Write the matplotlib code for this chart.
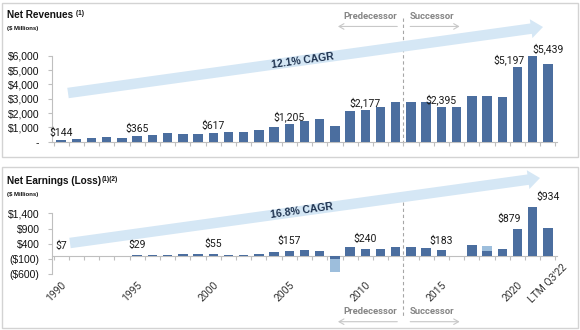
import numpy as np
import matplotlib
matplotlib.use("Agg")
import matplotlib.pyplot as plt
from matplotlib.patches import FancyArrow, Rectangle
from matplotlib.transforms import Affine2D, blended_transform_factory

# データ
years = [str(y) for y in range(1990, 2022)] + ["LTM Q3'22"]
revenues = [144, 163, 233, 326, 280, 365, 488, 581, 535, 558,
            617, 674, 674, 837, 1046, 1205, 1465, 1558, 1093, 2116,
            2177, 2395, 2767, 2744, 2790, 2395, 2395, 3186, 3163, 3093,
            5197, 5990, 5439]
earnings = [7, 4, 6, 12, 8, 29, 38, 45, 62, 50,
            55, 48, 45, 70, 125, 157, 195, 153, -110, 285,
            240, 220, 295, 285, 262, 183, 3, 360, 165, 240,
            879, 1607, 934]
earnings_extra = [0] * 18 + [-415] + [0] * 9 + [150] + [0] * 4
label_idx = [0, 5, 10, 15, 20, 25, 30, 32]
tick_years = ["1990", "1995", "2000", "2005", "2010", "2015", "2020", "LTM Q3'22"]
rev_ticks = [0, 1000, 2000, 3000, 4000, 5000, 6000]
earn_ticks = [-600, -100, 400, 900, 1400]
rev_cagr = "12.1% CAGR"
earn_cagr = "16.8% CAGR"

DARK = "#4B6E9F"
LIGHT = "#9DBEDC"
ARROW = "#D5E7F5"
GREY = "#BFBFBF"
NAVY = "#1F3350"

W, H = 580, 330
fig = plt.figure(figsize=(W / 100, H / 100), dpi=100)
px = Affine2D().scale(1 / W, -1 / H).translate(0, 1) + fig.transFigure

x = np.arange(len(years))


def px_box(left, top, right, bottom):
    return [left / W, 1 - bottom / H, (right - left) / W, (bottom - top) / H]


ax1 = fig.add_axes(px_box(52, 55.7, 557, 141.7))
ax2 = fig.add_axes(px_box(52, 213.3, 557, 274.3))

for ax in (ax1, ax2):
    ax.set_xlim(-0.6, 32.6)
    for s in ("top", "right"):
        ax.spines[s].set_visible(False)
    for s in ("left", "bottom"):
        ax.spines[s].set_color(GREY)
        ax.spines[s].set_linewidth(0.8)
    ax.set_xticks(np.arange(-0.5, 33, 1.0))
    ax.set_xticklabels([])
    ax.tick_params(axis="x", length=3, color=GREY, width=0.8)
    ax.tick_params(axis="y", length=3, color=GREY, width=0.8, pad=6,
                   labelsize=7.5, labelcolor="#111111")
    ax.patch.set_alpha(0)

# 上段：売上
ax1.bar(x, revenues, width=0.62, color=DARK, zorder=3, clip_on=False)
ax1.set_ylim(0, 6000)
ax1.set_yticks(rev_ticks)
ax1.set_yticklabels(["-" if v == 0 else f"${v:,.0f}" for v in rev_ticks],
                    family="Liberation Sans")

# 下段：純利益（2021年は軸上限を超える）
ax2.bar(x, earnings, width=0.62, color=DARK, zorder=3, clip_on=False)
ax2.bar(x, earnings_extra, bottom=earnings, width=0.62, color=LIGHT, zorder=3, clip_on=False)
ax2.set_ylim(-600, 1400)
ax2.spines["bottom"].set_position(("data", 0))
ax2.set_yticks(earn_ticks)
ax2.set_yticklabels([f"${v:,.0f}" if v >= 0 else f"(${-v:,.0f})" for v in earn_ticks],
                    family="Liberation Sans")

# データラベル
lab_font = dict(family="Roboto", fontsize=7.5, color="#1a1a1a", ha="center", va="bottom")
shift = {30: -0.55}
for vals, ax, off in ((revenues, ax1, 1.5), (earnings, ax2, 3.5)):
    for i in label_idx:
        v = vals[i]
        y = max(vals[i - 1], v) if i == len(vals) - 1 else max(v, 0)
        ax.annotate(f"${v:,.0f}", xy=(i + shift.get(i, 0), y), xytext=(0, off),
                    textcoords="offset points", zorder=5, annotation_clip=False,
                    **lab_font)

# 年ラベル
bt = blended_transform_factory(ax2.transData, ax2.transAxes)
for lab in tick_years:
    i = years.index(lab)
    if lab.startswith("LTM"):
        ax2.text(i, -0.15, lab, transform=bt, rotation=45, rotation_mode="anchor",
                 ha="center", va="center", family="Roboto", fontsize=7.5, color="#333333")
    else:
        ax2.text(i, -0.09, lab, transform=bt, rotation=45, rotation_mode="anchor",
                 ha="right", va="top", family="Roboto", fontsize=7.5, color="#333333")

# Predecessor / Successor
split = 22.5
for ax, y0, y1, ty, ay in ((ax1, 1.44, -0.01, 1.456, 1.34),
                           (ax2, 1.185, -0.716, -0.618, -0.777)):
    tr = blended_transform_factory(ax.transData, ax.transAxes)
    ax.plot([split, split], [y0, y1], transform=tr, clip_on=False,
            color="#A6A6A6", lw=0.8, ls=(0, (3, 2.5)), zorder=1)
    ax.text(split - 0.42, ty, "Predecessor", transform=tr, ha="right", va="center",
            family="Roboto", fontsize=6.8, color="#858585", fontweight="bold")
    ax.text(split + 0.42, ty, "Successor", transform=tr, ha="left", va="center",
            family="Roboto", fontsize=6.8, color="#858585", fontweight="bold")
    ap = dict(arrowstyle="->,head_length=0.35,head_width=0.2", color="#C8C8C8",
              lw=0.8, shrinkA=0, shrinkB=0)
    ax.annotate("", xy=(18.2, ay), xytext=(split - 0.4, ay), xycoords=tr, arrowprops=ap)
    ax.annotate("", xy=(26.2, ay), xytext=(split + 0.45, ay), xycoords=tr, arrowprops=ap)

# CAGR矢印
for (x0, y0, x1, y1, cx, cy, txt) in ((68, 93, 543, 27, 303, 61, rev_cagr),
                                      (70, 243, 540, 178, 302, 211, earn_cagr)):
    fig.patches.append(FancyArrow(x0, y0, x1 - x0, y1 - y0, width=10.5, head_width=19,
                                  head_length=12, length_includes_head=True,
                                  color=ARROW, lw=0, transform=px, zorder=0))
    ang = np.degrees(np.arctan2(y0 - y1, x1 - x0))
    fig.text(cx, cy, txt, transform=px, rotation=ang, rotation_mode="anchor",
             ha="center", va="center", family="Liberation Sans", fontweight="bold",
             fontsize=7.5, color=NAVY, zorder=6)

# 枠とタイトル
for (l, t, r, b) in ((2, 3, 578, 157), (2, 167, 578, 328)):
    fig.patches.append(Rectangle((l, t), r - l, b - t, transform=px, fill=False,
                                 ec="#D3D3D3", lw=1.0))

for ty, title, sup, sy in ((15, "Net Revenues", " (1)", 28.5),
                           (181, "Net Earnings (Loss)", "(1)(2)", 194.5)):
    t = fig.text(7, ty, title, transform=px, ha="left", va="center",
                 family="Liberation Sans", fontweight="bold", fontsize=7.2, color="#111111")
    plt.annotate(sup, xy=(1, 1.0), xycoords=t, xytext=(0.5, 0), textcoords="offset points",
                 ha="left", va="top", family="Liberation Sans", fontweight="bold",
                 fontsize=4.8, color="#111111", annotation_clip=False)
    fig.text(7, sy, "($ Millions)", transform=px, ha="left", va="center",
             family="Liberation Sans", fontweight="bold", fontsize=4.3, color="#111111")

fig.savefig("out.png", dpi=100)
